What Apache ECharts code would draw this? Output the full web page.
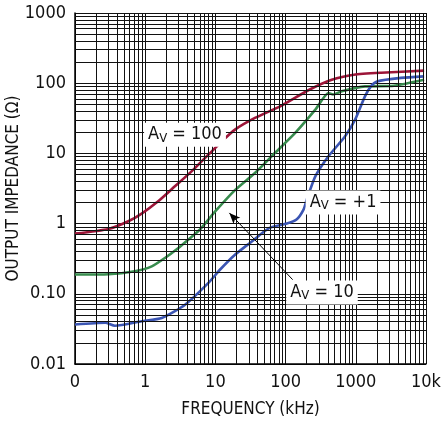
<!DOCTYPE html>
<html><head><meta charset="utf-8">
<script src="https://cdn.jsdelivr.net/npm/echarts@6/dist/echarts.min.js"></script>
<style>html,body{margin:0;padding:0;background:#fff}#c{width:442px;height:421px}</style>
</head><body><div id="c"></div>
<script>
// Frequency (kHz) / output impedance (ohm)
const av100Freq = [0.1, 0.3, 0.575, 0.89, 1.53, 2.65, 4.58, 7.95, 12.3, 19, 36.6, 87.6, 214, 455, 942, 2290, 9400];
const av100Z    = [0.72, 0.84, 1.08, 1.39, 2.08, 3.4, 5.55, 9.6, 14.8, 21.8, 32, 48, 80, 112, 132, 141, 151];
const av10Freq  = [0.1, 0.3, 0.71, 1.24, 1.91, 2.97, 4.1, 6.0, 10, 19, 36.6, 70.9, 137, 265, 408, 475, 630, 1350, 3500, 9400];
const av10Z     = [0.188, 0.19, 0.21, 0.246, 0.324, 0.45, 0.59, 0.82, 1.5, 3.0, 5.27, 10.2, 19.6, 42, 72.6, 69, 76.6, 90, 92, 112];
const av1Freq   = [0.1, 0.27, 0.37, 0.89, 1.72, 3.7, 7.95, 11.6, 19, 31, 59, 104, 143, 180, 200, 265, 408, 700, 977, 1350, 1640, 2000, 4400, 9400];
const av1Z      = [0.0365, 0.0386, 0.035, 0.0406, 0.0453, 0.07, 0.143, 0.22, 0.36, 0.53, 0.87, 1.0, 1.14, 1.58, 2.2, 4.7, 9.1, 17.4, 30.2, 65, 90, 106, 119, 125];
const xTickLabels = {0.1: '0', 1: '1', 10: '10', 100: '100', 1000: '1000', 10000: '10k'};
const yTickLabels = {0.01: '0.01', 0.1: '0.10', 1: '1', 10: '10', 100: '100', 1000: '1000'};
const labels = [
  {text: ' = 100', f: 3.69, z: 18.5},
  {text: ' = +1', f: 658, z: 1.99},
  {text: ' = 10', f: 330, z: 0.104}
];
const arrowFrom = [126, 0.159];
const arrowTo = [15.8, 1.42];

const FONT = '"Liberation Sans Narrow", "DejaVu Sans Condensed", sans-serif';
const zip = (a, b) => a.map((v, i) => [v, b[i]]);

const xDecades = [0.1, 1, 10, 100, 1000];
const yDecades = [0.01, 0.1, 1, 10, 100];
const gridLines = [];
xDecades.forEach(d => { for (let k = 2; k <= 9; k++) gridLines.push({xAxis: +(d * k).toPrecision(3)}); });
yDecades.forEach(d => { for (let k = 2; k <= 9; k++) gridLines.push({yAxis: +(d * k).toPrecision(3)}); });

const chart = echarts.init(document.getElementById('c'), null, {renderer: 'canvas'});
const lineStyleW = 2.6;
const curve = {type: 'line', showSymbol: false, smooth: 0.2, z: 3};
chart.setOption({
  animation: false,
  grid: {left: 75, right: 16, top: 13, bottom: 57, containLabel: false, outerBoundsMode: 'none'},
  xAxis: {
    type: 'log', logBase: 10, min: 0.1, max: 10000,
    axisLine: {show: true, lineStyle: {color: '#000', width: 1.5}},
    axisTick: {show: false},
    splitLine: {show: true, lineStyle: {color: '#111', width: 1}},
    axisLabel: {color: '#111', fontFamily: FONT, fontSize: 18, margin: 9,
      formatter: v => xTickLabels[+v.toPrecision(3)] ?? ''},
    name: 'FREQUENCY (kHz)', nameLocation: 'middle', nameGap: 37, nameMoveOverlap: false,
    nameTextStyle: {color: '#111', fontFamily: FONT, fontSize: 17}
  },
  yAxis: {
    type: 'log', logBase: 10, min: 0.01, max: 1000,
    axisLine: {show: true, lineStyle: {color: '#000', width: 1.5}},
    axisTick: {show: false},
    splitLine: {show: true, lineStyle: {color: '#111', width: 1}},
    axisLabel: {color: '#111', fontFamily: FONT, fontSize: 18, margin: 9,
      formatter: v => yTickLabels[+v.toPrecision(3)] ?? ''},
    name: 'OUTPUT IMPEDANCE (\u03A9)', nameLocation: 'middle', nameGap: 53, nameMoveOverlap: false,
    nameTextStyle: {color: '#111', fontFamily: FONT, fontSize: 17}
  },
  series: [
    {type: 'line', data: [], z: 1, silent: true,
      markLine: {silent: true, symbol: 'none', label: {show: false},
        lineStyle: {color: '#111', width: 1, type: 'solid'}, data: gridLines}},
    Object.assign({}, curve, {data: zip(av100Freq, av100Z), lineStyle: {color: '#9c1538', width: lineStyleW}}),
    Object.assign({}, curve, {data: zip(av10Freq, av10Z), lineStyle: {color: '#388c4e', width: lineStyleW}}),
    Object.assign({}, curve, {data: zip(av1Freq, av1Z), lineStyle: {color: '#3b55b3', width: lineStyleW}}),
    {type: 'line', data: [], z: 5, silent: true,
      markLine: {silent: true, symbol: ['none', 'arrow'], symbolSize: [7, 11], label: {show: false},
        lineStyle: {color: '#000', width: 1, type: 'solid'},
        data: [[{coord: arrowFrom}, {coord: arrowTo}]]},
      markPoint: {silent: true, symbol: 'rect', symbolSize: 0,
        data: labels.map(l => ({coord: [l.f, l.z], value: l.text})),
        label: {show: true, position: 'inside', backgroundColor: '#fff', padding: [2, 4, 2, 4],
          formatter: p => '{a|A}{s|V}{a|' + p.value + '}',
          rich: {
            a: {fontFamily: FONT, fontSize: 18, color: '#111', lineHeight: 20},
            s: {fontFamily: FONT, fontSize: 13, color: '#111', padding: [7, 0, 0, 0], lineHeight: 20}
          }}}}
  ]
});
</script></body></html>
